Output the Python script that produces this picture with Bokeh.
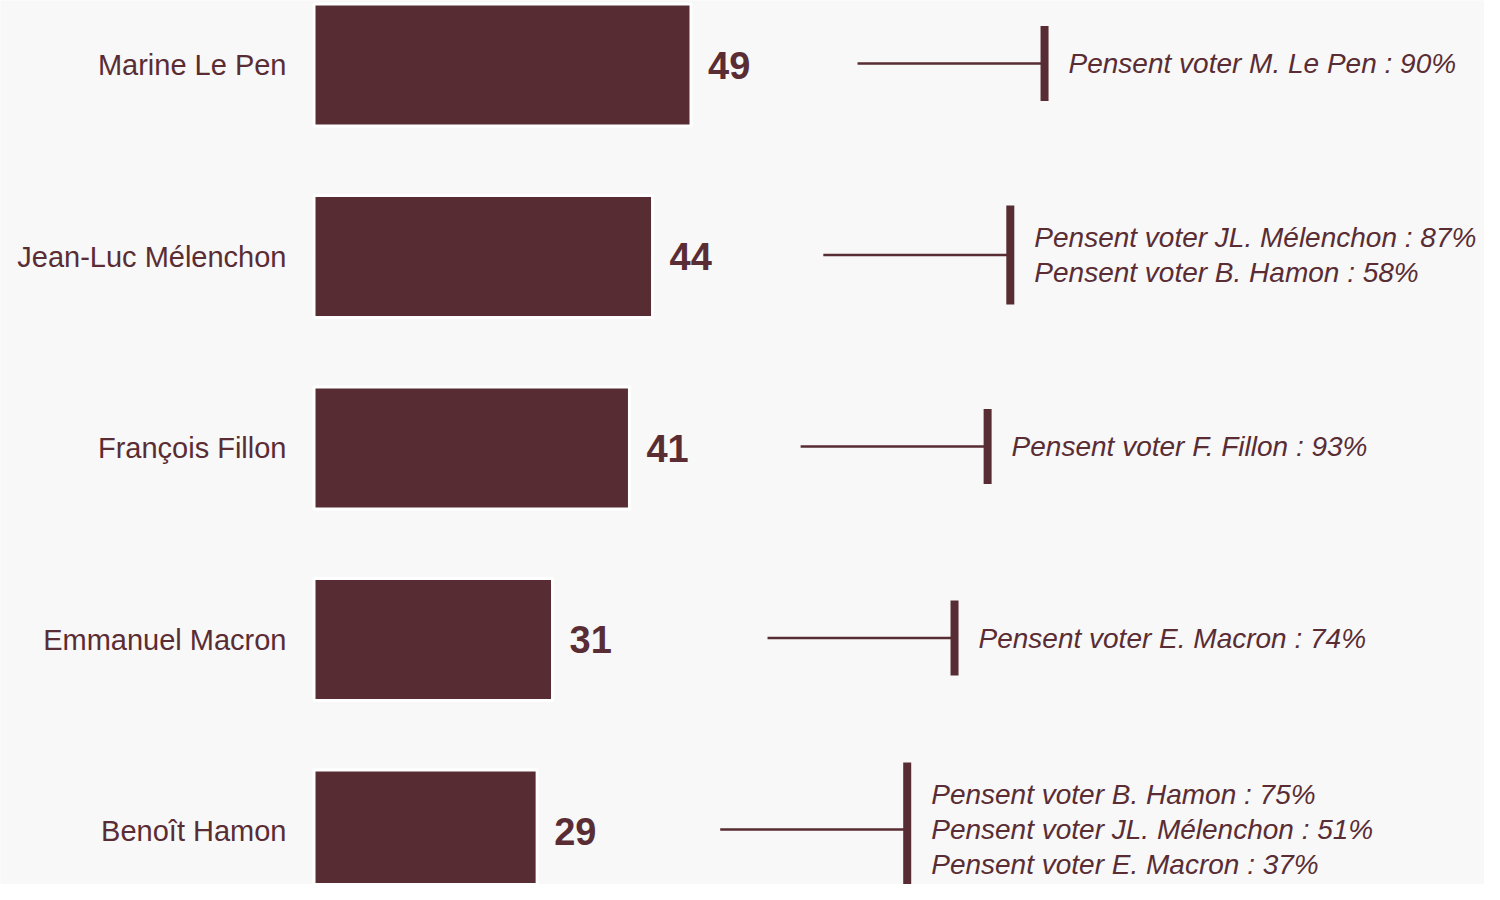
from bokeh.plotting import figure
from bokeh.models import Range1d, ColumnDataSource
from bokeh.core.properties import value
from bokeh.embed import file_html
from bokeh.resources import INLINE

# ---------------- data ----------------
candidates = ["Marine Le Pen", "Jean-Luc Mélenchon", "François Fillon",
              "Emmanuel Macron", "Benoît Hamon"]
scores = [49, 44, 41, 31, 29]
# position of the vertical connector mark, in score units
connector_x = [94.95, 90.5, 87.55, 83.25, 77.1]
notes = [
    ["Pensent voter M. Le Pen : 90%"],
    ["Pensent voter JL. Mélenchon : 87%", "Pensent voter B. Hamon : 58%"],
    ["Pensent voter F. Fillon : 93%"],
    ["Pensent voter E. Macron : 74%"],
    ["Pensent voter B. Hamon : 75%", "Pensent voter JL. Mélenchon : 51%",
     "Pensent voter E. Macron : 37%"],
]

# ---------------- style / layout ----------------
W, H = 1484, 884
BG = "#f8f8f8"
BAR = "#572c33"
TXT = "#5a2d34"
FONT = "Liberation Sans"
PX_X = 7.694          # px per score unit
ORIGIN_X = 313.5      # px of score 0
ROW = 191.5           # px between rows
TOP_Y = 64.5          # px of first row centre

x0 = -ORIGIN_X / PX_X
x1 = (W - ORIGIN_X) / PX_X
y_top = -TOP_Y / ROW
y_bot = (H - TOP_Y) / ROW

p = figure(width=W, height=H, output_backend="svg", toolbar_location=None,
           x_range=Range1d(x0, x1), y_range=Range1d(y_bot, y_top),
           min_border=0, background_fill_color=BG, border_fill_color=BG,
           outline_line_color=None)
p.axis.visible = False
p.grid.visible = False

n = len(candidates)
ys = list(range(n))

src = ColumnDataSource(dict(y=ys, score=scores, name=candidates,
                            label=[str(s) for s in scores]))

p.hbar(y="y", left=0, right="score", height=122 / ROW, source=src,
       fill_color=BAR, line_color="white", line_width=3)

p.text(x=0, y="y", text="name", source=src, x_offset=-27.5,
       text_align="right", text_baseline="middle",
       text_font=value(FONT), text_font_size="29px", text_color=TXT)

p.text(x="score", y="y", text="label", source=src, x_offset=17,
       text_align="left", text_baseline="middle",
       text_font=value(FONT), text_font_size="38px", text_font_style="bold",
       text_color=TXT)

# connectors and notes
hx0, hx1, hy = [], [], []
vx, vy0, vy1 = [], [], []
tx, ty, tt = [], [], []
LINE_PX = 35.0
for i, (cx, lines) in enumerate(zip(connector_x, notes)):
    yc = i - 1.5 / ROW
    hx0.append(cx - 187 / PX_X)
    hx1.append(cx)
    hy.append(yc)
    k = len(lines)
    span = max(75.0, LINE_PX * k + 29)
    vx.append(cx)
    vy0.append(yc - span / 2 / ROW)
    vy1.append(yc + span / 2 / ROW)
    for j, t in enumerate(lines):
        tx.append(cx + 24 / PX_X)
        ty.append(yc + (j - (k - 1) / 2) * LINE_PX / ROW)
        tt.append(t)

p.segment(x0=hx0, y0=hy, x1=hx1, y1=hy, line_color=BAR, line_width=2.5)
p.segment(x0=vx, y0=vy0, x1=vx, y1=vy1, line_color=BAR, line_width=8,
          line_cap="butt")
p.text(x=tx, y=ty, text=tt, text_align="left", text_baseline="middle",
       text_font=value(FONT), text_font_size="28px",
       text_font_style="italic", text_color=TXT)

open("out.html", "w").write(file_html(p, INLINE))
